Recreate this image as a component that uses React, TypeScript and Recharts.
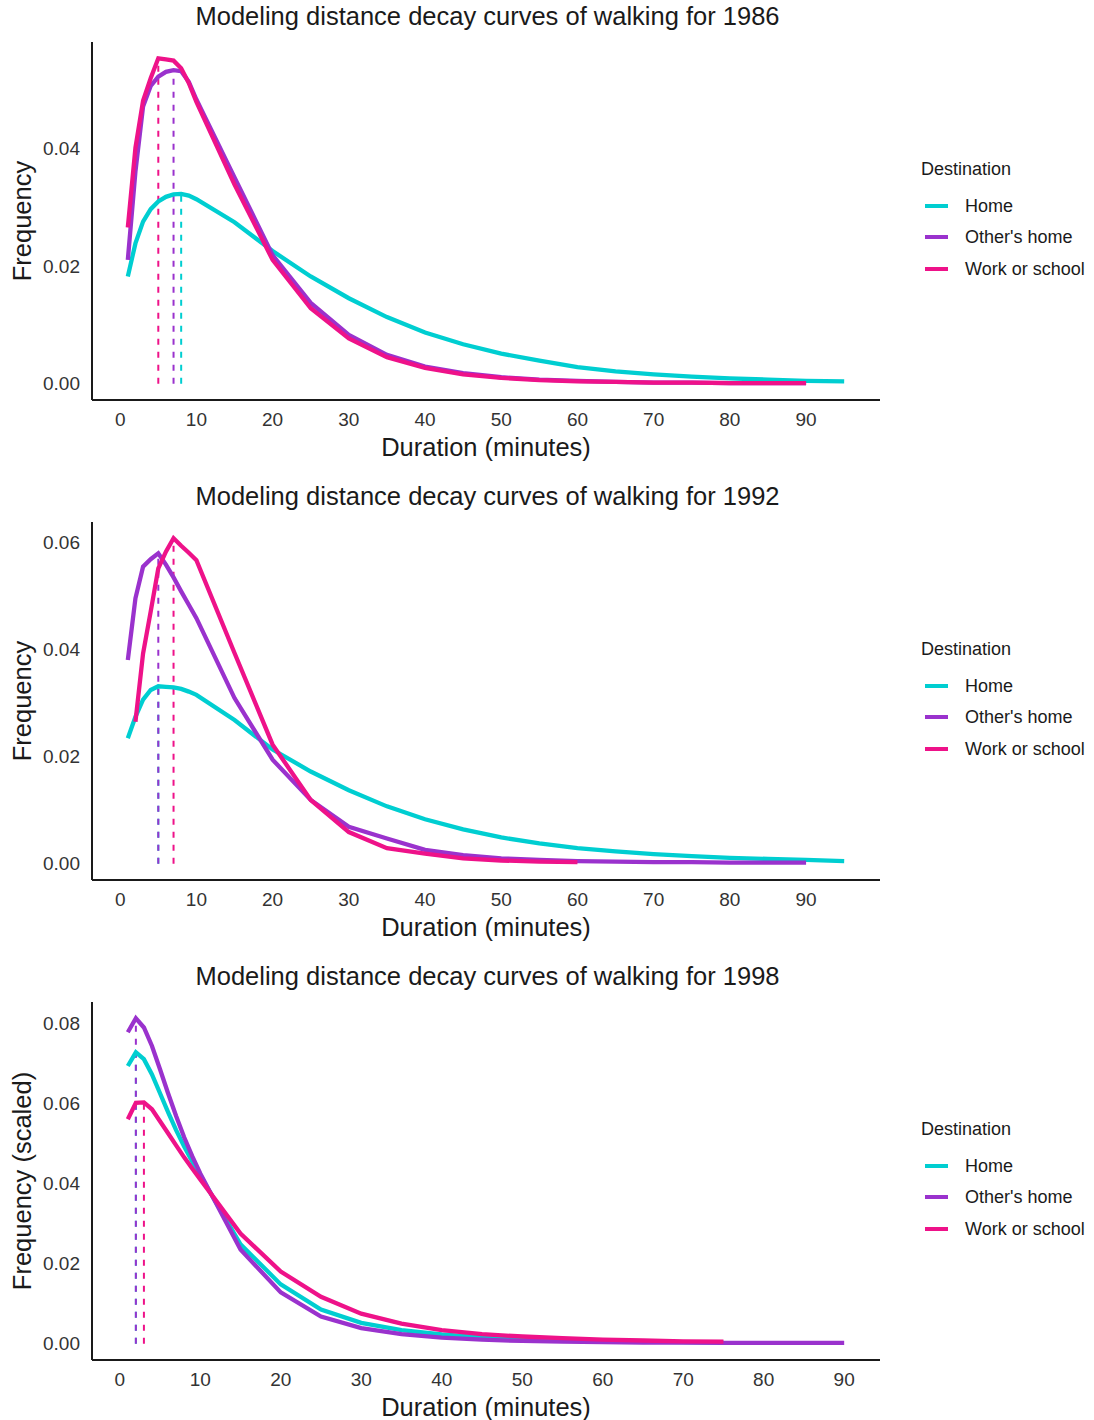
import React from 'react';
import { LineChart, Line, XAxis, YAxis, ReferenceLine } from 'recharts';

// durations in minutes
const durations = [1, 2, 3, 4, 5, 6, 7, 8, 9, 10, 15, 20, 25, 30, 35, 40, 45, 50, 55, 60, 65, 70, 75, 80, 85, 90, 95];
const durations1998 = [1, 2, 3, 4, 5, 6, 7, 8, 9, 10, 15, 20, 25, 30, 35, 40, 45, 50, 55, 60, 65, 70, 75, 80, 85, 90];

const home1986 = [0.0182, 0.0238, 0.0275, 0.0296, 0.0309, 0.0317, 0.0321, 0.0322, 0.0319, 0.0313, 0.0274, 0.0225, 0.0182, 0.0145, 0.0113, 0.0087, 0.0067, 0.0051, 0.0039, 0.0028, 0.0021, 0.0016, 0.0012, 0.0009, 0.0007, 0.0005, 0.0004];
const other1986 = [0.021, 0.036, 0.047, 0.0505, 0.0521, 0.0529, 0.0532, 0.053, 0.0512, 0.0482, 0.035, 0.0218, 0.0137, 0.0083, 0.0049, 0.0029, 0.0018, 0.0011, 0.0007, 0.0005, 0.0003, 0.0002, 0.0002, 0.0001, 0.0001, 0.0001, null];
const work1986 = [0.0265, 0.04, 0.048, 0.0518, 0.0552, 0.055, 0.0548, 0.0535, 0.051, 0.0478, 0.0338, 0.021, 0.0128, 0.0077, 0.0045, 0.0027, 0.0016, 0.001, 0.0006, 0.0004, 0.0003, 0.0002, 0.0002, 0.0001, 0.0001, 0.0001, null];

const home1992 = [0.0234, 0.0274, 0.0306, 0.0324, 0.0331, 0.033, 0.0329, 0.0326, 0.0321, 0.0315, 0.0268, 0.0213, 0.0172, 0.0137, 0.0107, 0.0083, 0.0064, 0.0049, 0.0038, 0.0029, 0.0023, 0.0018, 0.0014, 0.0011, 0.0009, 0.0007, 0.0005];
const other1992 = [0.038, 0.0495, 0.0554, 0.0568, 0.0579, 0.0558, 0.0534, 0.0508, 0.0483, 0.0458, 0.0309, 0.0194, 0.0119, 0.0069, 0.0047, 0.0026, 0.0016, 0.001, 0.0007, 0.0005, 0.0004, 0.0003, 0.0003, 0.0002, 0.0002, 0.0002, null];
const work1992 = [null, 0.0265, 0.0392, 0.047, 0.0551, 0.0582, 0.0607, 0.0593, 0.058, 0.0566, 0.0393, 0.0222, 0.0119, 0.0059, 0.0029, 0.0019, 0.001, 0.0006, 0.0004, 0.0003, null, null, null, null, null, null, null];

const home1998 = [0.0693, 0.0727, 0.071, 0.0672, 0.0625, 0.0578, 0.0533, 0.0492, 0.0455, 0.042, 0.0248, 0.0148, 0.0085, 0.0052, 0.0034, 0.0023, 0.0016, 0.0012, 0.0009, 0.0007, 0.0005, 0.0004, 0.0003, null, null, null];
const other1998 = [0.0777, 0.0812, 0.0789, 0.0743, 0.0685, 0.0625, 0.0568, 0.0515, 0.0468, 0.0425, 0.0235, 0.0128, 0.0068, 0.0039, 0.0024, 0.0015, 0.001, 0.0007, 0.0005, 0.0004, 0.0003, 0.0003, 0.0002, 0.0002, 0.0002, 0.0002];
const work1998 = [0.056, 0.0601, 0.0602, 0.0585, 0.0555, 0.0525, 0.0495, 0.0465, 0.0437, 0.041, 0.0275, 0.018, 0.0117, 0.0075, 0.005, 0.0034, 0.0024, 0.0018, 0.0014, 0.001, 0.0008, 0.0006, 0.0005, null, null, null];

const seriesNames = ['Home', "Other's home", 'Work or school'];
const seriesKeys = ['home', 'other', 'work'];
const seriesColors = ['#00ced1', '#9a32cd', '#ee1289'];

const xTicks = [0, 10, 20, 30, 40, 50, 60, 70, 80, 90];
const yTicks1986 = [0, 0.02, 0.04];
const yTicks1992 = [0, 0.02, 0.04, 0.06];
const yTicks1998 = [0, 0.02, 0.04, 0.06, 0.08];

const FONT = '"Liberation Sans", Arial, Helvetica, sans-serif';
const W = 1094;
const H = 480;

type Vals = (number | null)[];

function expand(lo: number, hi: number): [number, number] {
  const pad = (hi - lo) * 0.05;
  return [lo - pad, hi + pad];
}

function Panel({ title, yLabel, xs, series, yTicks }: { title: string; yLabel: string; xs: number[]; series: Vals[]; yTicks: number[] }) {
  const rows = xs.map((x, i) => {
    const row: Record<string, number | null> = { x };
    series.forEach((s, k) => (row[seriesKeys[k]] = s[i]));
    return row;
  });
  const usedX = xs.filter((_, i) => series.some((s) => s[i] != null));
  const allY = series.flat().filter((v): v is number => v != null);
  const xDomain = expand(Math.min(...usedX), Math.max(...usedX));
  const yDomain = expand(0, Math.max(...allY));

  // peak of every curve
  const peaks = series.map((s) => {
    let best = 0;
    s.forEach((v, i) => {
      if (v != null && (s[best] == null || v > (s[best] as number))) best = i;
    });
    return { x: xs[best], y: s[best] as number };
  });

  return (
    <div style={{ position: 'relative', width: W, height: H }}>
      <div style={{ position: 'absolute', left: 0, width: 975, top: 2, textAlign: 'center', fontSize: 25.5, lineHeight: '28px', color: '#1a1a1a' }}>{title}</div>
      <LineChart width={W} height={H} data={rows} margin={{ top: 42, right: 214, bottom: 50, left: 32 }}>
        <XAxis
          dataKey="x"
          type="number"
          domain={xDomain}
          ticks={xTicks}
          allowDataOverflow
          height={30}
          tickSize={0}
          tickMargin={13}
          axisLine={{ stroke: '#1a1a1a', strokeWidth: 2 }}
          tick={{ fill: '#333', fontSize: 19, fontFamily: FONT }}
        />
        <YAxis
          type="number"
          domain={yDomain}
          ticks={yTicks}
          allowDataOverflow
          width={60}
          tickSize={0}
          tickMargin={12}
          axisLine={{ stroke: '#1a1a1a', strokeWidth: 2 }}
          tick={{ fill: '#333', fontSize: 19, fontFamily: FONT }}
          tickFormatter={(v: number) => v.toFixed(2)}
        />
        {peaks.map((p, k) => (
          <ReferenceLine
            key={'peak' + k}
            segment={[{ x: p.x, y: 0 }, { x: p.x, y: p.y }]}
            stroke={seriesColors[k]}
            strokeWidth={2}
            strokeDasharray="6 7"
          />
        ))}
        {seriesKeys.map((key, k) => (
          <Line
            key={key}
            dataKey={key}
            type="linear"
            stroke={seriesColors[k]}
            strokeWidth={4.3}
            dot={false}
            activeDot={false}
            isAnimationActive={false}
          />
        ))}
      </LineChart>
      <div style={{ position: 'absolute', left: 92, width: 788, top: 433, textAlign: 'center', fontSize: 25.5, lineHeight: '28px', color: '#1a1a1a' }}>Duration (minutes)</div>
      <div
        style={{
          position: 'absolute',
          left: 22,
          top: 221,
          transform: 'translate(-50%, -50%) rotate(-90deg)',
          whiteSpace: 'nowrap',
          fontSize: 25.5,
          lineHeight: '28px',
          color: '#1a1a1a',
        }}
      >
        {yLabel}
      </div>
      <div style={{ position: 'absolute', left: 921, top: 158, fontSize: 18, lineHeight: '22px', color: '#1a1a1a' }}>Destination</div>
      {seriesNames.map((name, k) => (
        <div key={name} style={{ position: 'absolute', left: 925, top: 195 + k * 31.3, height: 22, display: 'flex', alignItems: 'center' }}>
          <div style={{ width: 23, height: 4, background: seriesColors[k] }} />
          <span style={{ marginLeft: 17, fontSize: 18, lineHeight: '22px', color: '#1a1a1a' }}>{name}</span>
        </div>
      ))}
    </div>
  );
}

export default function App() {
  return (
    <div style={{ position: 'absolute', left: 0, top: 0, width: W, height: 1420, background: '#fff', fontFamily: FONT }}>
      <Panel title="Modeling distance decay curves of walking for 1986" yLabel="Frequency" xs={durations} series={[home1986, other1986, work1986]} yTicks={yTicks1986} />
      <Panel title="Modeling distance decay curves of walking for 1992" yLabel="Frequency" xs={durations} series={[home1992, other1992, work1992]} yTicks={yTicks1992} />
      <Panel title="Modeling distance decay curves of walking for 1998" yLabel="Frequency (scaled)" xs={durations1998} series={[home1998, other1998, work1998]} yTicks={yTicks1998} />
    </div>
  );
}
